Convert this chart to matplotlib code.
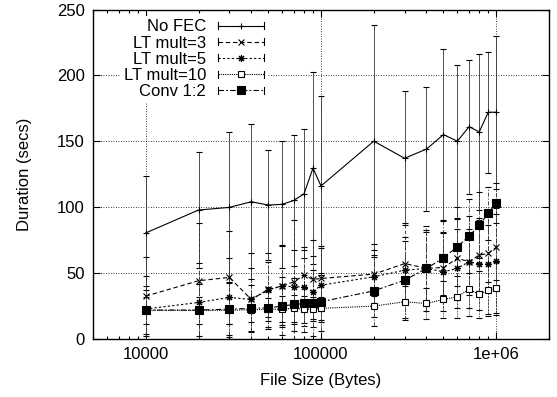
import numpy as np
import matplotlib
matplotlib.use('Agg')
import matplotlib.pyplot as plt
import matplotlib.ticker as ticker
from matplotlib.legend_handler import HandlerLine2D
from matplotlib.lines import Line2D

plt.rcParams['font.family'] = ['Liberation Sans', 'DejaVu Sans']
plt.rcParams['font.size'] = 12

# File sizes (bytes)
file_sizes = [10000, 20000, 30000, 40000, 50000, 60000, 70000, 80000, 90000, 100000,
              200000, 300000, 400000, 500000, 600000, 700000, 800000, 900000, 1000000]

# Mean durations (secs) and symmetric error (secs)
no_fec = [80.3, 97.7, 99.7, 104, 101.5, 102, 105, 110, 129.5, 116,
          150, 137, 144, 155, 150, 161, 157, 172, 172]
no_fec_err = [43, 44, 57, 59, 42, 48, 50, 49, 73, 68,
              88, 51, 47, 65, 58, 51, 59, 46, 58]

lt3 = [32.3, 44, 46.5, 29.8, 37.4, 40, 43.2, 48.2, 45, 45.7,
       49, 57, 53.5, 54, 61, 58.5, 63.5, 64.7, 69.3]
lt3_err = [30, 44, 35, 24, 21, 31, 47, 19, 30, 25,
           23, 31, 29, 26, 30, 25, 27, 22, 25]

lt5 = [22.5, 27.5, 31.3, 29.8, 37, 40, 39.4, 39.4, 35.6, 40.6,
       47, 52, 53.3, 50.8, 53.3, 58.5, 56.6, 56.6, 59.1]
lt5_err = [25, 30, 30, 35, 28, 30, 28, 30, 27, 28,
           20, 25, 28, 30, 30, 35, 35, 38, 40]

lt10 = [21.5, 21.5, 21.5, 22, 22.2, 22.5, 23, 22.2, 22.5, 23,
        24.7, 28, 26.7, 29.8, 31.8, 37.4, 33.6, 36.9, 38.1]
lt10_err = [10, 10, 10, 9, 9, 10, 10, 10, 9, 9,
            8, 12, 12, 14, 16, 20, 18, 20, 20]

conv = [21.7, 21.7, 22.4, 23, 23.4, 24.7, 26, 26.7, 27.2, 28,
        36.3, 44.4, 53.3, 61.4, 69.8, 77.9, 86.2, 95.1, 103.2]
conv_err = [18, 20, 20, 18, 16, 22, 20, 22, 25, 22,
            27, 30, 32, 28, 30, 28, 25, 20, 15]

labels = ['No FEC', 'LT mult=3', 'LT mult=5', 'LT mult=10', 'Conv 1:2']

series = [
    (no_fec, no_fec_err, dict(ls='-', marker='+', ms=5, mfc='black')),
    (lt3, lt3_err, dict(ls=(0, (4, 2.5)), marker='x', ms=4, mfc='black')),
    (lt5, lt5_err, dict(ls=(0, (2, 2)), marker=(8, 2, 0), ms=5, mfc='black')),
    (lt10, lt10_err, dict(ls=(0, (1, 1)), marker='s', ms=5, mfc='white')),
    (conv, conv_err, dict(ls=(0, (5, 2, 1.5, 2)), marker='s', ms=6, mfc='black')),
]


class HandlerErrLine(HandlerLine2D):
    # gnuplot style key sample: line with small tics at both ends
    def create_artists(self, legend, orig_handle, xdescent, ydescent,
                       width, height, fontsize, trans):
        artists = super().create_artists(legend, orig_handle, xdescent, ydescent,
                                         width, height, fontsize, trans)
        y = height / 2 - ydescent
        for x in (-xdescent, width - xdescent):
            t = Line2D([x, x], [y - 2.5, y + 2.5], color='black', lw=0.8,
                       transform=trans)
            artists.append(t)
        return artists


fig = plt.figure(figsize=(5.57, 3.97), dpi=100)
ax = fig.add_axes([0.167, 0.147, 0.9856 - 0.167, 0.976 - 0.147])

handles = []
for (vals, errs, st), lab in zip(series, labels):
    line, caps, bars = ax.errorbar(file_sizes, vals, yerr=errs, color='black',
                                   lw=0.8, elinewidth=0.6, capsize=2.2,
                                   capthick=0.7, linestyle=st['ls'],
                                   marker=st['marker'], ms=st['ms'],
                                   mfc=st['mfc'], mec='black', mew=0.8)
    bars[0].set_linestyle(st['ls'])
    bars[0].set_color('#333333')
    h = Line2D([], [], color='black', lw=0.8, linestyle=st['ls'],
               marker=st['marker'], ms=st['ms'], mfc=st['mfc'], mec='black',
               mew=0.8)
    handles.append(h)

ax.set_xscale('log')
ax.set_xlim(5000, 2e6)
ax.set_ylim(0, 250)

ax.xaxis.set_major_locator(ticker.FixedLocator([1e4, 1e5, 1e6]))
ax.xaxis.set_major_formatter(ticker.FixedFormatter(['10000', '100000', '1e+06']))
ax.xaxis.set_minor_locator(ticker.LogLocator(base=10, subs=np.arange(2, 10)))
ax.xaxis.set_minor_formatter(ticker.NullFormatter())
ax.yaxis.set_major_locator(ticker.MultipleLocator(50))

ax.tick_params(which='both', direction='in', top=True, right=True,
               labelsize=12, width=0.8)
ax.tick_params(which='major', length=5, pad=6)
ax.tick_params(which='minor', length=2.5)
for sp in ax.spines.values():
    sp.set_linewidth(1.0)

ax.grid(True, which='major', linestyle=(0, (1, 2)), linewidth=0.6, color='black')

ax.set_xlabel('File Size (Bytes)', fontsize=12, labelpad=8)
ax.set_ylabel('Duration (secs)', fontsize=12, labelpad=18)

leg = ax.legend(handles, labels, loc='upper left', bbox_to_anchor=(0.056, 0.985),
                markerfirst=False, handlelength=2.8, handletextpad=0.7,
                labelspacing=0.07, borderaxespad=0.1, borderpad=0.2,
                frameon=True, fancybox=False, fontsize=12,
                handler_map={Line2D: HandlerErrLine(numpoints=1)})
leg.get_frame().set_edgecolor('none')
leg.get_frame().set_facecolor('white')
leg.get_frame().set_alpha(1.0)
for t in leg.get_texts():
    t.set_ha('right')
leg._legend_box.align = 'right'

plt.savefig('out.png', dpi=100)
plt.close()
